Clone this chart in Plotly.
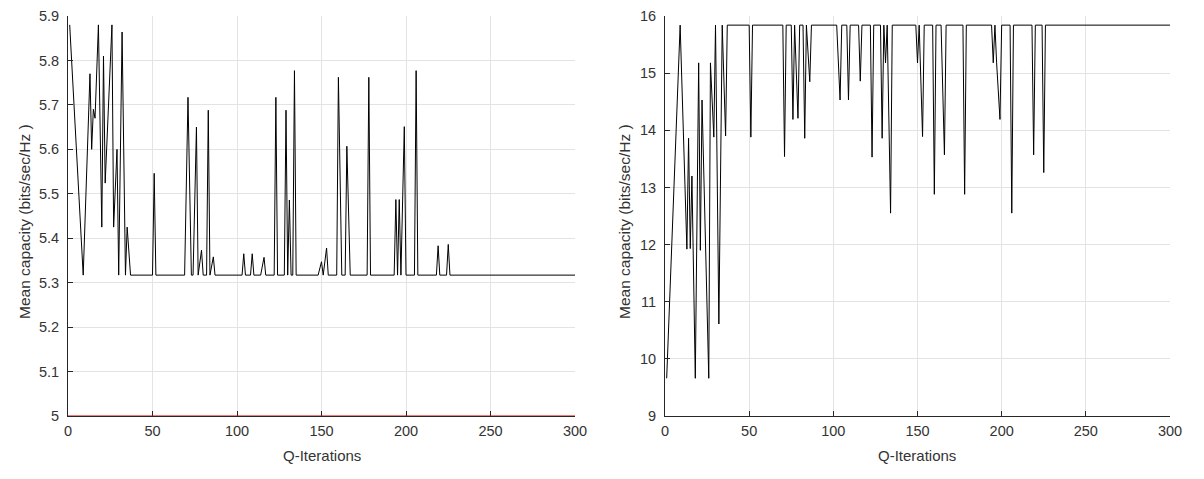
import plotly.graph_objects as go

# ---------------- data ----------------
# Left panel: mean capacity vs Q-iteration (breakpoints of the curve)
left_iter = [1, 9, 13, 14, 15, 16, 18, 20, 21, 22, 26, 27, 29, 30, 32, 34, 35, 37,
             50, 51, 52,
             69, 71, 73, 74, 76, 77, 79, 80, 82, 83, 84, 86, 87,
             103, 104, 105, 108, 109, 110, 114, 116, 117,
             122, 123, 124, 128, 129, 130, 131, 132, 133, 134, 135,
             148, 150, 151, 153, 154,
             159, 160, 162, 164, 165, 167,
             177, 178, 179,
             193, 194, 195, 196, 197, 199, 200,
             205, 206, 207,
             218, 219, 220, 224, 225, 226,
             300]
left_cap = [5.880, 5.317, 5.770, 5.600, 5.690, 5.670, 5.880, 5.425, 5.810, 5.524, 5.880, 5.425, 5.600, 5.317, 5.864, 5.317, 5.425, 5.317,
            5.317, 5.546, 5.317,
            5.317, 5.717, 5.317, 5.317, 5.650, 5.317, 5.373, 5.317, 5.317, 5.688, 5.317, 5.358, 5.317,
            5.317, 5.365, 5.317, 5.317, 5.365, 5.317, 5.317, 5.357, 5.317,
            5.317, 5.717, 5.317, 5.317, 5.688, 5.317, 5.486, 5.317, 5.317, 5.777, 5.317,
            5.317, 5.347, 5.317, 5.378, 5.317,
            5.317, 5.762, 5.317, 5.317, 5.607, 5.317,
            5.317, 5.762, 5.317,
            5.317, 5.487, 5.317, 5.487, 5.317, 5.651, 5.317,
            5.317, 5.777, 5.317,
            5.317, 5.383, 5.317, 5.317, 5.386, 5.317,
            5.317]

# Red reference line in the left panel
ref_iter = [0, 300]
ref_cap = [5.0, 5.0]

# Right panel
right_iter = [1, 9, 13, 14, 15, 16, 18, 20, 21, 22, 26, 27, 29, 30, 32, 34, 36, 37,
              50, 51, 52,
              70, 71, 72, 75, 76, 77, 79, 80, 82, 83, 84, 86, 87,
              102, 104, 105, 108, 109, 110, 115, 116, 117,
              122, 123, 124, 128, 129, 130, 131, 132, 134, 135,
              149, 150, 151, 153, 154,
              159, 160, 161, 164, 166, 167,
              177, 178, 179,
              194, 195, 196, 197, 199, 200,
              205, 206, 207,
              218, 219, 220, 224, 225, 226,
              300]
right_cap = [9.66, 15.84, 11.92, 13.86, 11.93, 13.20, 9.66, 15.18, 11.90, 14.53, 9.66, 15.18, 13.88, 15.84, 10.61, 15.84, 13.90, 15.84,
             15.84, 13.88, 15.84,
             15.84, 13.54, 15.84, 15.84, 14.19, 15.84, 14.21, 15.84, 15.84, 13.86, 15.84, 14.85, 15.84,
             15.84, 14.53, 15.84, 15.84, 14.53, 15.84, 15.84, 14.86, 15.84,
             15.84, 13.53, 15.84, 15.84, 13.86, 15.84, 15.18, 15.84, 12.55, 15.84,
             15.84, 15.18, 15.84, 13.89, 15.84,
             15.84, 12.88, 15.84, 15.84, 13.57, 15.84,
             15.84, 12.88, 15.84,
             15.84, 15.18, 15.84, 15.18, 14.19, 15.84,
             15.84, 12.55, 15.84,
             15.84, 13.57, 15.84, 15.84, 13.26, 15.84,
             15.84]

x_ticks = [0, 50, 100, 150, 200, 250, 300]
left_yticks = [5.0, 5.1, 5.2, 5.3, 5.4, 5.5, 5.6, 5.7, 5.8, 5.9]
left_yticklabels = ["5", "5.1", "5.2", "5.3", "5.4", "5.5", "5.6", "5.7", "5.8", "5.9"]
right_yticks = [9, 10, 11, 12, 13, 14, 15, 16]

x_title = "Q-Iterations"
y_title = "Mean capacity (bits/sec/Hz )"

# ---------------- figure ----------------
W, H = 1204, 479
FONT = "Liberation Sans, Arial, Helvetica, sans-serif"
AX = "#262626"
TXT = "#333333"
GRID = "#e3e3e3"

fig = go.Figure()
fig.add_trace(go.Scatter(x=ref_iter, y=ref_cap, mode="lines",
                         line=dict(color="#e00000", width=1.2),
                         xaxis="x", yaxis="y", showlegend=False, hoverinfo="skip"))
fig.add_trace(go.Scatter(x=left_iter, y=left_cap, mode="lines",
                         line=dict(color="#000000", width=1),
                         xaxis="x", yaxis="y", showlegend=False))
fig.add_trace(go.Scatter(x=right_iter, y=right_cap, mode="lines",
                         line=dict(color="#000000", width=1),
                         xaxis="x2", yaxis="y2", showlegend=False))

lx0, lx1 = 68 / W, 575 / W
rx0, rx1 = 665 / W, 1170 / W
y0, y1 = (H - 416) / H, (H - 16) / H

common_x = dict(range=[0, 300], tickvals=x_ticks, ticks="inside", ticklen=5, tickcolor=AX,
                showline=True, linecolor=AX, linewidth=1, mirror=False,
                showgrid=True, gridcolor=GRID, gridwidth=1, zeroline=False,
                automargin=False, ticklabelstandoff=2,
                tickfont=dict(family=FONT, size=14.5, color=TXT))
common_y = dict(ticks="inside", ticklen=5, tickcolor=AX,
                showline=True, linecolor=AX, linewidth=1, mirror=False,
                showgrid=True, gridcolor=GRID, gridwidth=1, zeroline=False,
                automargin=False, ticklabelstandoff=5,
                tickfont=dict(family=FONT, size=14.5, color=TXT))

fig.update_layout(
    width=W, height=H, autosize=False,
    margin=dict(l=0, r=0, t=0, b=0, pad=0, autoexpand=False),
    paper_bgcolor="white", plot_bgcolor="white",
    xaxis=dict(domain=[lx0, lx1], anchor="y", layer="below traces", **common_x),
    yaxis=dict(domain=[y0, y1], anchor="x", range=[5, 5.9],
               tickvals=left_yticks, ticktext=left_yticklabels, **common_y),
    xaxis2=dict(domain=[rx0, rx1], anchor="y2", **common_x),
    yaxis2=dict(domain=[y0, y1], anchor="x2", range=[9, 16],
                tickvals=right_yticks, **common_y),
    annotations=[
        dict(text=x_title, x=(lx0 + lx1) / 2, y=(H - 455) / H, xref="paper", yref="paper",
             xanchor="center", yanchor="middle",
             showarrow=False, font=dict(family=FONT, size=15, color=TXT)),
        dict(text=x_title, x=(rx0 + rx1) / 2, y=(H - 455) / H, xref="paper", yref="paper",
             xanchor="center", yanchor="middle",
             showarrow=False, font=dict(family=FONT, size=15, color=TXT)),
        dict(text=y_title, x=25 / W, y=(H - 222) / H, xref="paper", yref="paper",
             xanchor="center", yanchor="middle",
             textangle=-90, showarrow=False, font=dict(family=FONT, size=15.5, color=TXT)),
        dict(text=y_title, x=625 / W, y=(H - 222) / H, xref="paper", yref="paper",
             xanchor="center", yanchor="middle",
             textangle=-90, showarrow=False, font=dict(family=FONT, size=15.5, color=TXT)),
    ],
)

fig.write_html(
    "out.html",
    config={"responsive": False},
    post_script="document.body.style.margin='0';document.body.style.padding='0';",
)
